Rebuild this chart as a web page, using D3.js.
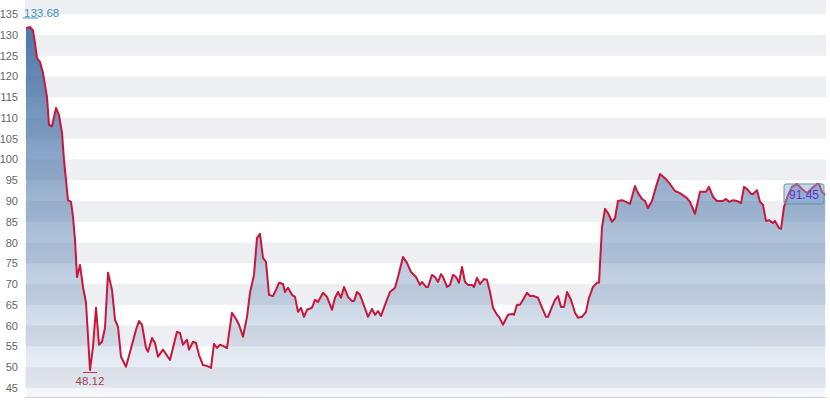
<!DOCTYPE html>
<html><head><meta charset="utf-8">
<script src="https://cdn.jsdelivr.net/npm/d3@7"></script>
<style>html,body{margin:0;padding:0;background:#fff;}svg{display:block;font-family:"Liberation Sans",Arial,sans-serif;}</style>
</head><body>
<svg id="c" width="830" height="405"></svg>
<script>
// day offsets from start of series
const days = [0,4,7,9,11,14,17,21,23,26,30,33,36,38,42,45,47,49,51,54,57,60,64,67,70,73,76,79,82,86,89,92,95,100,106,110,113,116,120,122,126,129,132,137,144,151,154,157,161,163,167,170,173,177,181,185,188,191,194,197,201,206,210,213,217,221,224,228,231,234,237,240,243,247,250,253,257,259,262,266,269,272,275,278,281,286,289,292,297,301,306,309,312,315,318,322,326,328,331,334,337,342,346,349,352,355,359,364,369,372,377,381,385,390,394,396,400,402,406,409,412,415,417,421,424,427,430,433,436,439,442,446,448,451,454,458,461,464,467,471,473,477,482,486,488,491,494,497,501,504,508,512,516,520,522,526,529,532,535,538,541,545,549,552,556,560,563,567,571,573,576,579,582,586,589,592,596,600,604,609,612,616,619,622,626,630,634,639,644,649,654,661,664,669,674,680,683,687,691,697,700,703,707,711,715,718,721,725,727,731,734,737,740,743,747,749,753,755,758,762,766,771,776,781,786,791,793,796,799];
const values = [131.6,131.9,131.1,128,124.4,123.5,120.8,115,108.3,108,112.4,110.7,106.4,99.9,90.2,89.8,86.2,80.6,71.7,74.6,69.3,65.5,49.3,54.9,64.3,55.4,56.1,59.4,72.7,68.6,61.4,59.7,52.5,50.1,55.4,59,61.1,60.2,54.6,53.7,57,55.8,52.5,54.2,51.7,58.5,58.2,55.4,56.6,54.2,56.1,55.8,52.9,50.5,50.3,49.8,55.6,54.6,55.4,55.1,54.6,63.1,61.6,60.2,57.3,62.1,67.9,72.2,81.1,82.1,76.3,75.3,67.4,67.1,68.6,70.3,70,68.1,69.1,67.4,66.9,63.3,64.3,62.1,63.8,64.3,66.2,65.7,67.9,66.9,63.8,66.7,68.1,66.7,69.3,66.9,65.9,65.9,68.1,67.4,65.5,62.1,64,62.6,63.5,62.3,65,68.1,69.1,71.7,76.5,75.1,72.9,71.7,69.8,70.5,69.3,69.3,72.2,71.7,70.5,72.4,71.7,69.3,69.8,72.2,71.7,70.3,74.1,70.5,69.8,69.8,69.3,71.5,70,71.2,71,68.1,64.3,62.6,62.1,60.2,62.6,62.8,62.6,65,65,66.2,67.9,67.1,67.1,66.7,64.3,62.1,62.1,64.5,66.2,67.1,64.5,64.5,68.1,66.2,63.1,61.9,62.1,63.3,66.7,69.3,70.3,70.3,83.7,88.1,87.1,85,85.9,90,90.2,89.8,89.3,93.6,91.9,90.5,90,88.3,90,93.4,96.5,95.5,94.1,92.4,91.9,90.7,89.8,86.9,92.2,92.2,93.4,91,90,90,90.5,89.8,90.2,90,89.5,93.4,92.9,91.7,91.7,92.6,89.8,89.1,85.2,85.4,84.7,85.2,83.5,83.3,88.6,91.4,93.4,94.1,92.9,91.9,93.1,94.1,94.1,92.2,91.45];
const yTicks = [45,50,55,60,65,70,75,80,85,90,95,100,105,110,115,120,125,130,135];
const maxLabel = "133.68";
const minLabel = "48.12";
const lastLabel = "91.45";

const svg = d3.select("#c");
const L = 25, R = 826, T = 0, B = 397;
const x = d3.scaleLinear().domain([0, d3.max(days)]).range([26, 825]);
const y = d3.scaleLinear().domain([42.8, 138.4]).range([B, T]);
const data = days.map((d, i) => ({d, v: values[i]}));

// bands
const bands = d3.range(140, 40, -5).filter(v => v % 10 === 0);
svg.append("g").selectAll("rect").data(bands).join("rect")
  .attr("x", L).attr("width", R - L)
  .attr("y", d => Math.max(T, y(d)))
  .attr("height", d => y(d - 5) - Math.max(T, y(d)))
  .attr("fill", "#eeeff2");

// gradient
const defs = svg.append("defs");
const g = defs.append("linearGradient").attr("id", "gf")
  .attr("gradientUnits", "userSpaceOnUse").attr("x1", 0).attr("x2", 0).attr("y1", 0).attr("y2", B);
g.append("stop").attr("offset", 0).attr("stop-color", "#3c6aa2").attr("stop-opacity", 0.97);
g.append("stop").attr("offset", 0.5).attr("stop-color", "#3c6aa2").attr("stop-opacity", 0.5);
g.append("stop").attr("offset", 1).attr("stop-color", "#3c6aa2").attr("stop-opacity", 0.05);

const area = d3.area().x(d => x(d.d)).y0(B).y1(d => y(d.v));
svg.append("path").datum(data).attr("d", area).attr("fill", "url(#gf)");

// bottom axis line
svg.append("line").attr("x1", L).attr("x2", R).attr("y1", B + 0.5).attr("y2", B + 0.5)
  .attr("stroke", "#d0d0d0").attr("stroke-width", 1);

// y labels
const yAxis = d3.axisLeft(y).tickValues(yTicks).tickSize(0).tickPadding(0);
const ga = svg.append("g").attr("transform", "translate(18,0)").call(yAxis);
ga.select(".domain").remove();
ga.selectAll("text").attr("font-size", 11).attr("fill", "#666")
  .attr("font-family", "Liberation Sans, Arial, sans-serif");

// line
const line = d3.line().x(d => x(d.d)).y(d => y(d.v));
svg.append("path").datum(data).attr("d", line).attr("fill", "none")
  .attr("stroke", "#c8173a").attr("stroke-width", 2).attr("stroke-linejoin", "round");

// max annotation
const maxP = data.reduce((a, b) => b.v > a.v ? b : a);
const minP = data.reduce((a, b) => b.v < a.v ? b : a);
svg.append("line").attr("x1", x(maxP.d) - 7).attr("x2", x(maxP.d) + 8)
  .attr("y1", y(maxP.v) - 9).attr("y2", y(maxP.v) - 9).attr("stroke", "#3b8fc2").attr("stroke-width", 1);
svg.append("text").attr("x", x(maxP.d) - 6).attr("y", y(maxP.v) - 10)
  .attr("font-size", 11.5).attr("fill", "#3b8fc2").text(maxLabel);

// min annotation
svg.append("line").attr("x1", x(minP.d) - 7).attr("x2", x(minP.d) + 7)
  .attr("y1", y(minP.v) + 2.5).attr("y2", y(minP.v) + 2.5).attr("stroke", "#a8404f").attr("stroke-width", 1);
svg.append("text").attr("x", x(minP.d)).attr("y", y(minP.v) + 15).attr("text-anchor", "middle")
  .attr("font-size", 11.5).attr("fill", "#a8404f").text(minLabel);

// last value label box
const last = data[data.length - 1];
const ly = y(last.v);
svg.append("rect").attr("x", x(last.d) - 41).attr("y", ly - 11).attr("width", 40).attr("height", 20)
  .attr("rx", 2).attr("fill", "#7eaad3").attr("fill-opacity", 0.45)
  .attr("stroke", "#6f8fb0").attr("stroke-width", 1);
svg.append("text").attr("x", x(last.d) - 21).attr("y", ly + 4).attr("text-anchor", "middle")
  .attr("font-size", 12).attr("fill", "#6e28d0").text(lastLabel);
</script>
</body></html>
